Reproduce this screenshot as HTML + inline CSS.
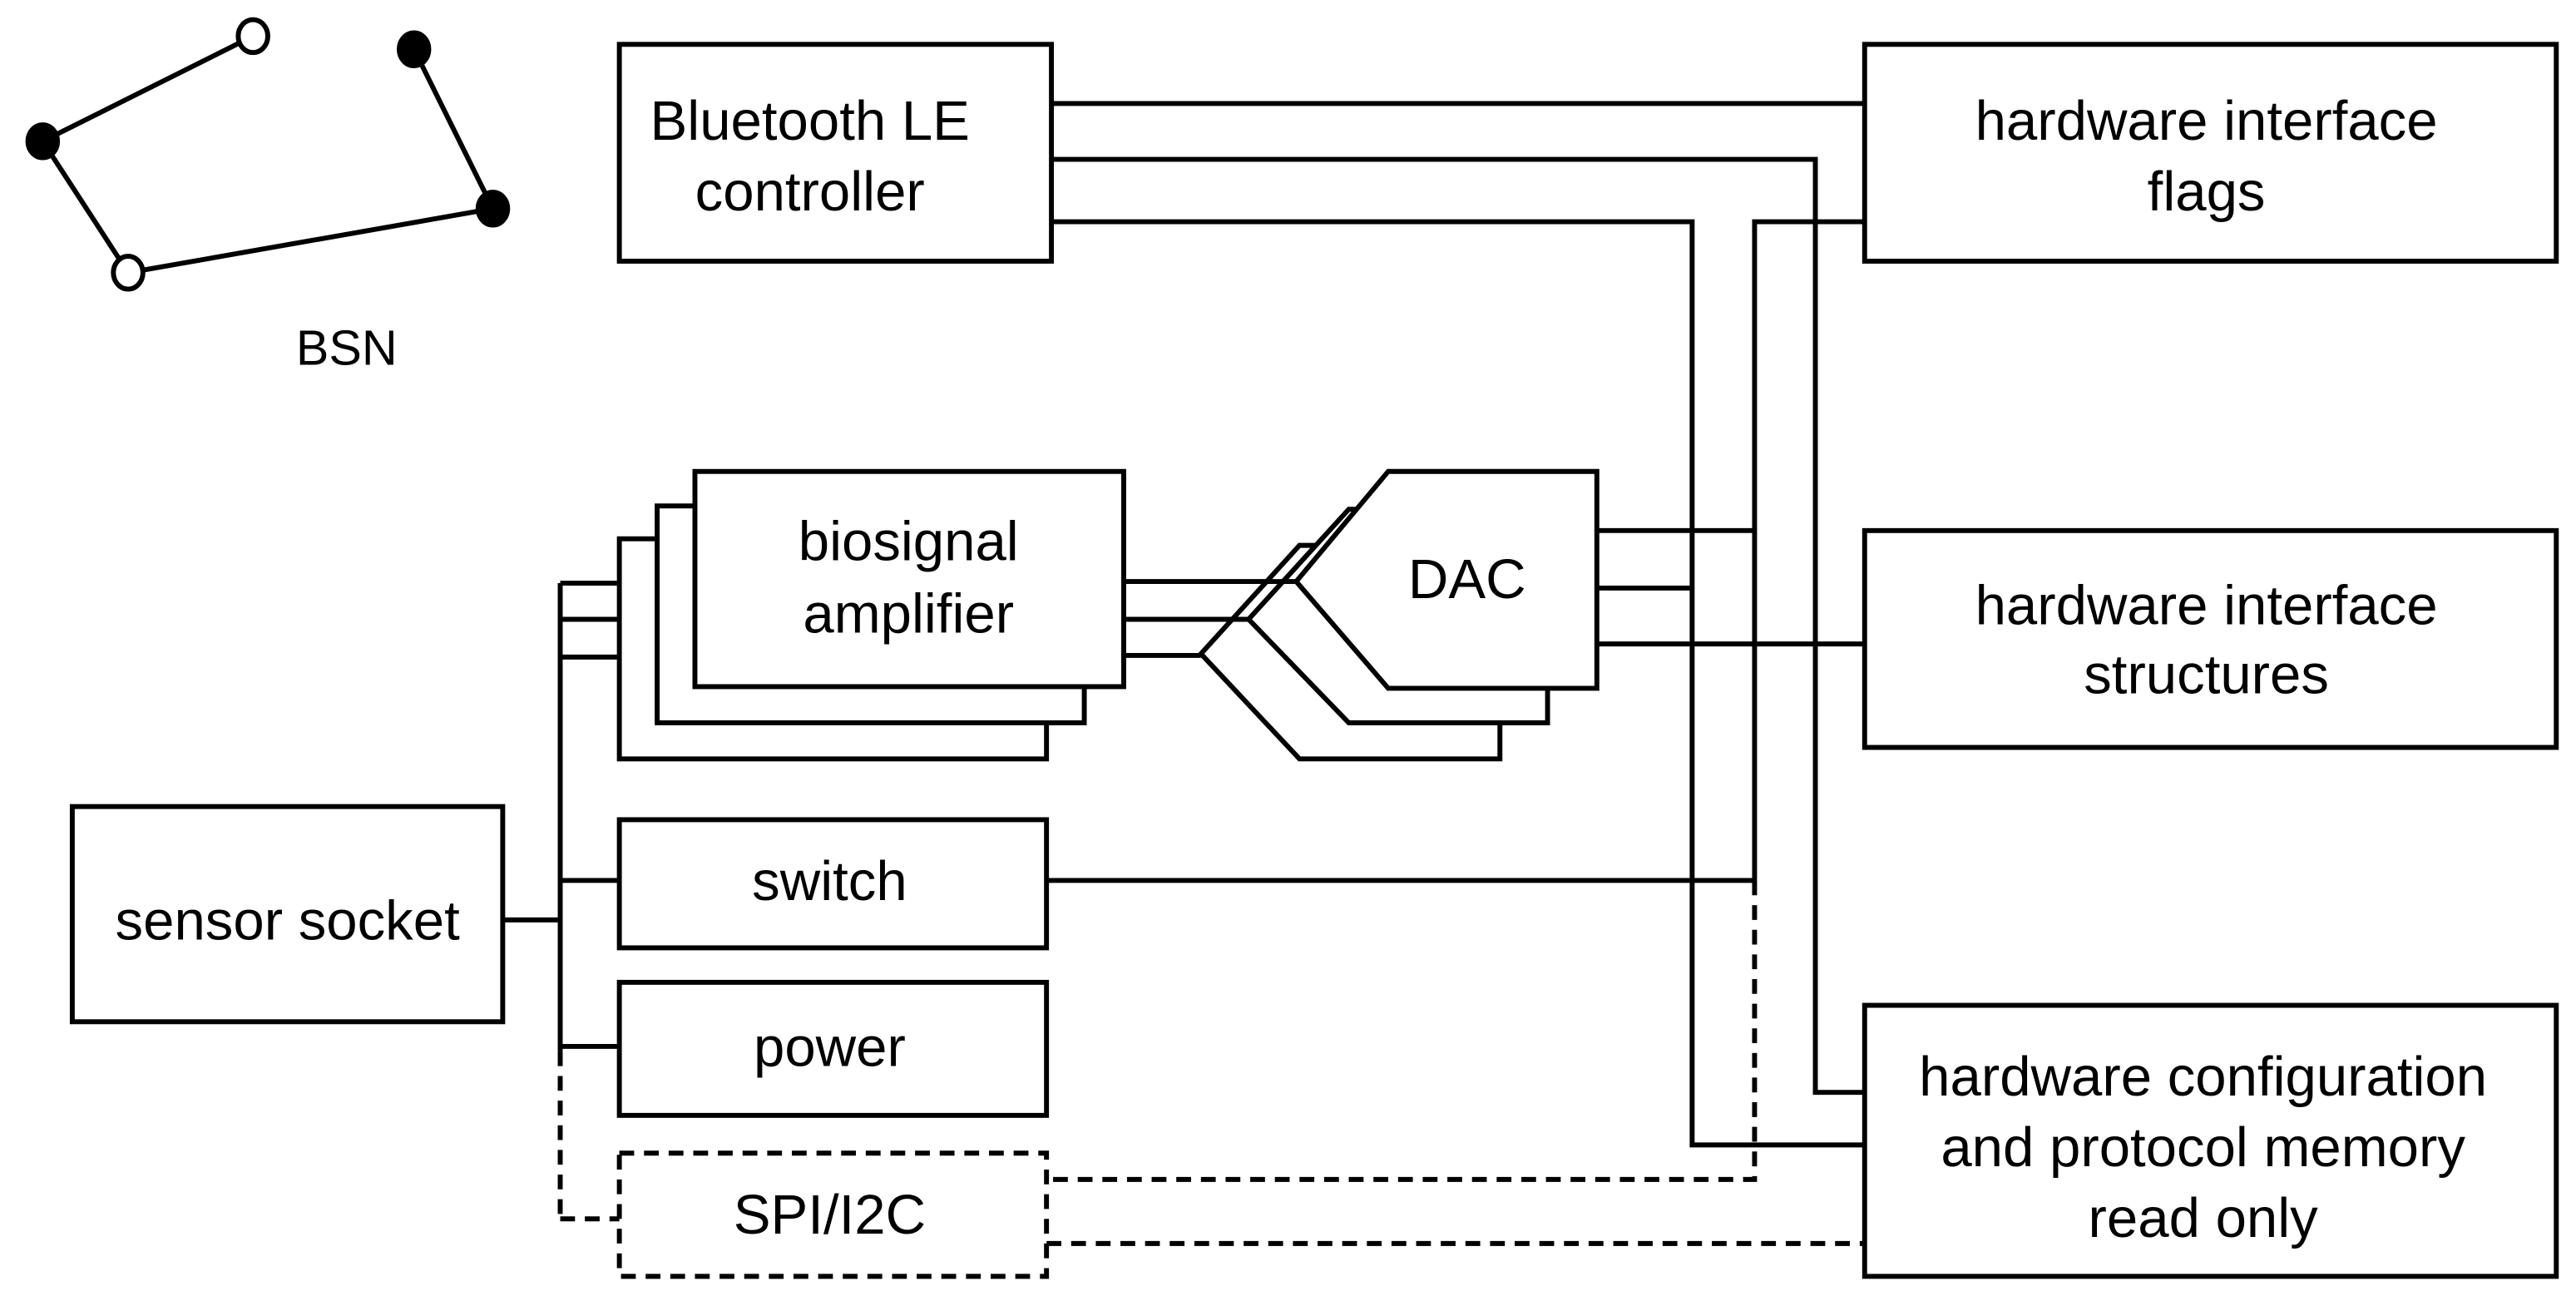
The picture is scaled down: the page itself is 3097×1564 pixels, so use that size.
<!DOCTYPE html>
<html><head><meta charset="utf-8"><style>html,body{margin:0;padding:0;background:#fff}svg{display:block}</style></head>
<body>
<svg width="3097" height="1564" viewBox="0 0 1568 792" preserveAspectRatio="none" xmlns="http://www.w3.org/2000/svg" font-family="Liberation Sans, sans-serif" font-size="34" fill="#000">
<g stroke="#000" stroke-width="3" fill="none">
<line x1="26" y1="86" x2="154" y2="22"/><line x1="26" y1="86" x2="78" y2="166"/>
<line x1="78" y1="166" x2="300" y2="127"/><line x1="252" y1="30" x2="300" y2="127"/>
<ellipse cx="154" cy="22" rx="9" ry="10" fill="#fff"/><ellipse cx="78" cy="166" rx="9" ry="10" fill="#fff"/>
<ellipse cx="26" cy="86" rx="9" ry="10" fill="#000"/><ellipse cx="252" cy="30" rx="9" ry="10" fill="#000"/><ellipse cx="300" cy="127" rx="9" ry="10" fill="#000"/>
<rect x="377" y="27" width="263" height="132"/>
<rect x="1135" y="27" width="421" height="132"/>
<rect x="1135" y="323" width="421" height="132"/>
<rect x="1135" y="612" width="421" height="165"/>
<rect x="44" y="491" width="262" height="131"/>
<rect x="377" y="499" width="260" height="78"/>
<rect x="377" y="598" width="260" height="81"/>
<rect x="377" y="702" width="260" height="75" stroke-dasharray="9,6"/>
<rect x="377" y="328" width="260" height="134" fill="#fff"/>
<rect x="400" y="308" width="260" height="132" fill="#fff"/>
<rect x="423" y="287" width="261" height="131" fill="#fff"/>
<polyline points="640,63 1135,63"/>
<polyline points="640,97 1105,97 1105,665 1135,665"/>
<polyline points="640,135 1030,135 1030,697 1135,697"/>
<polyline points="1135,135 1068,135 1068,536"/>
<polyline points="1068,536 1068,718 637,718" stroke-dasharray="9,6"/>
<polyline points="637,757 1135,757" stroke-dasharray="9,6"/>
<line x1="637" y1="536" x2="1068" y2="536"/>
<line x1="972" y1="323" x2="1068" y2="323"/>
<line x1="972" y1="358" x2="1030" y2="358"/>
<line x1="972" y1="392" x2="1135" y2="392"/>
<polygon points="791,332 913,332 913,462 791,462 731,398" fill="#fff"/>
<polygon points="821,310 942,310 942,440 821,440 760,377" fill="#fff"/>
<polygon points="845,287 972,287 972,419 845,419 789,354" fill="#fff"/>
<line x1="684" y1="354" x2="789" y2="354"/>
<line x1="684" y1="377" x2="760" y2="377"/>
<line x1="684" y1="399" x2="731" y2="399"/>
<line x1="306" y1="560" x2="341" y2="560"/>
<line x1="341" y1="355" x2="341" y2="640"/>
<line x1="341" y1="640" x2="341" y2="742" stroke-dasharray="9,6"/>
<line x1="341" y1="742" x2="377" y2="742" stroke-dasharray="9,6"/>
<line x1="341" y1="355" x2="377" y2="355"/>
<line x1="341" y1="377" x2="377" y2="377"/>
<line x1="341" y1="400" x2="377" y2="400"/>
<line x1="341" y1="536" x2="377" y2="536"/>
<line x1="341" y1="637" x2="377" y2="637"/>
</g>
<g text-anchor="middle" stroke="none">
<text x="211" y="222" font-size="30">BSN</text>
<text x="493" y="85">Bluetooth LE</text>
<text x="493" y="128">controller</text>
<text x="1343" y="85">hardware interface</text>
<text x="1343" y="128">flags</text>
<text x="1343" y="380">hardware interface</text>
<text x="1343" y="422">structures</text>
<text x="1341" y="667">hardware configuration</text>
<text x="1341" y="710">and protocol memory</text>
<text x="1341" y="753">read only</text>
<text x="175" y="572">sensor socket</text>
<text x="505" y="548">switch</text>
<text x="505" y="649">power</text>
<text x="505" y="751">SPI/I2C</text>
<text x="553" y="341">biosignal</text>
<text x="553" y="385">amplifier</text>
<text x="893" y="364">DAC</text>
</g>
</svg>
</body></html>
